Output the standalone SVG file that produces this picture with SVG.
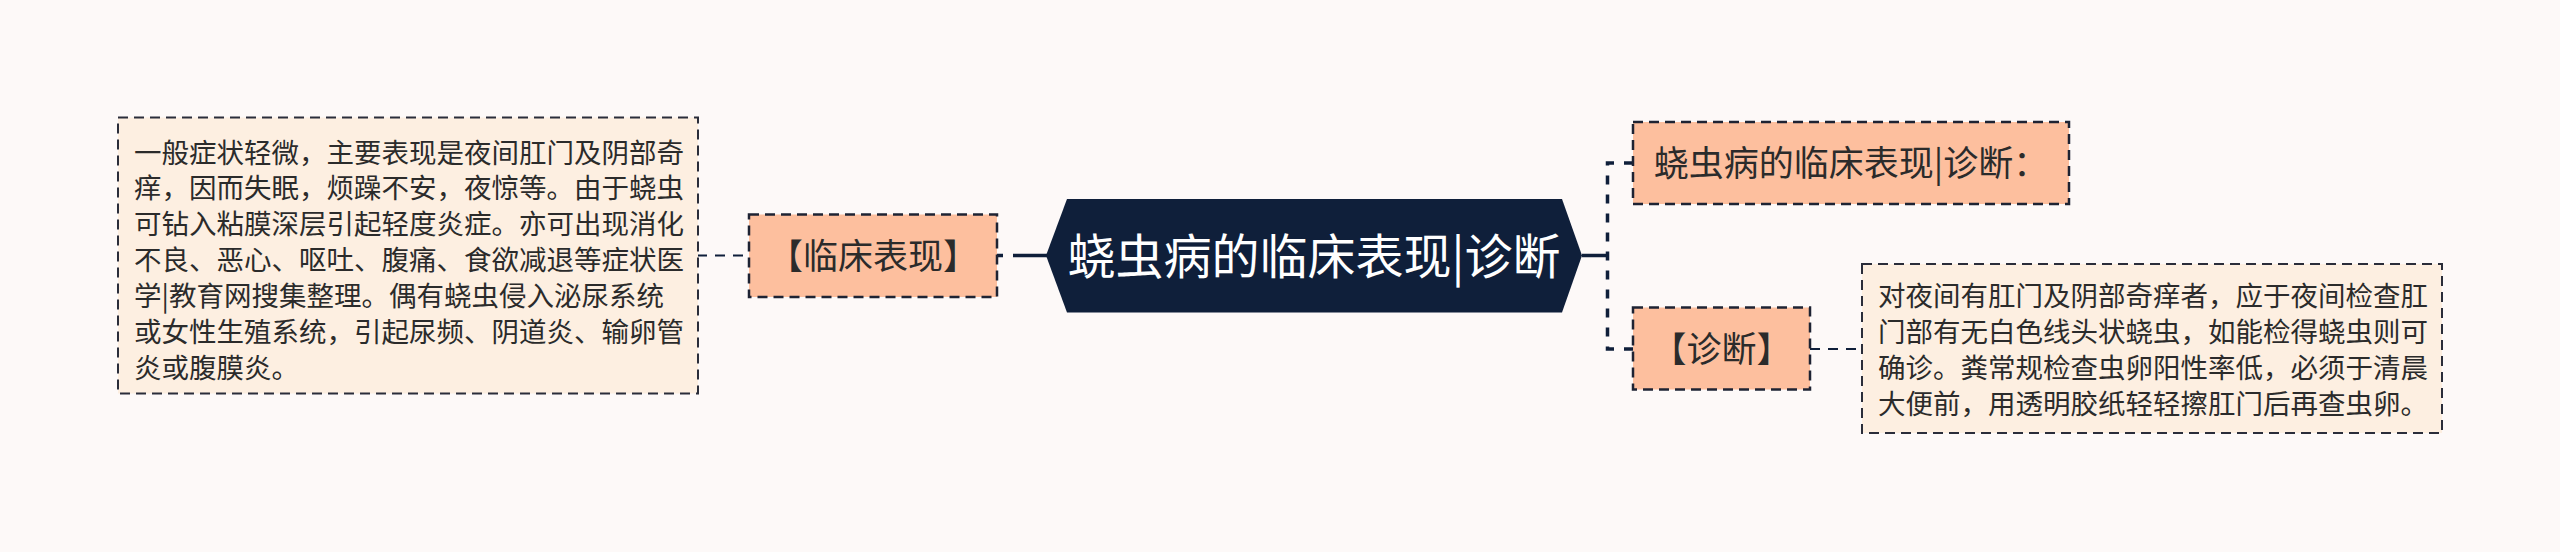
<svg xmlns="http://www.w3.org/2000/svg" width="2560" height="552" viewBox="0 0 2560 552">
<style>
text{font-family:"Noto Sans CJK SC","Noto Sans",sans-serif;fill:#2b2b2b}
.small{font-size:27.5px}
.mid{font-size:35px}
.root{font-size:48px;fill:#ffffff}
.tbox{fill:#fdefe1;stroke:#2a2d3a;stroke-width:2;stroke-dasharray:10 6}
.mbox{fill:#fdbf9e;stroke:#1e2333;stroke-width:2.5;stroke-dasharray:10 6}
.thin{fill:none;stroke:#0f1f3a;stroke-width:2;stroke-dasharray:10 8}
.thick{fill:none;stroke:#0f1f3a;stroke-width:3.5}
</style>
<rect width="2560" height="552" fill="#fdf9f8"/>
<g id="connectors">
<path class="thin" d="M697 255.5 H749"/>
<path class="thick" d="M1048 255.5 H997" stroke-dasharray="35 10"/>
<path class="thick" d="M1582 255.5 H1607.5"/>
<path class="thick" d="M1633 163 H1607.5 V349 H1633" stroke-dasharray="9 10"/>
<path class="thin" d="M1810 349 H1862"/>
</g>
<g id="node-root">
<polygon points="1046,255.5 1067,199 1562,199 1582,255.5 1562,312.5 1067,312.5" fill="#0f1f3a"/>
<text class="root" x="1314" y="273.5" text-anchor="middle">蛲虫病的临床表现|诊断</text>
</g>
<g id="node-linchuang">
<rect class="mbox" x="749" y="214.5" width="248" height="82.5"/>
<text class="mid" x="873" y="269" text-anchor="middle">【临床表现】</text>
</g>
<g id="node-linchuang-detail">
<rect class="tbox" x="118" y="117.5" width="580" height="276"/>
<text class="small" x="134">
<tspan x="134" y="162.5">一般症状轻微，主要表现是夜间肛门及阴部奇</tspan>
<tspan x="134" y="198.4">痒，因而失眠，烦躁不安，夜惊等。由于蛲虫</tspan>
<tspan x="134" y="234.3">可钻入粘膜深层引起轻度炎症。亦可出现消化</tspan>
<tspan x="134" y="270.2">不良、恶心、呕吐、腹痛、食欲减退等症状医</tspan>
<tspan x="134" y="306.1">学|教育网搜集整理。偶有蛲虫侵入泌尿系统</tspan>
<tspan x="134" y="342">或女性生殖系统，引起尿频、阴道炎、输卵管</tspan>
<tspan x="134" y="377.9">炎或腹膜炎。</tspan>
</text>
</g>
<g id="node-title">
<rect class="mbox" x="1633" y="122" width="436" height="82"/>
<text class="mid" x="1851" y="176.3" text-anchor="middle">蛲虫病的临床表现|诊断：</text>
</g>
<g id="node-zhenduan">
<rect class="mbox" x="1633" y="307.5" width="177" height="82"/>
<text class="mid" x="1721.5" y="361.8" text-anchor="middle">【诊断】</text>
</g>
<g id="node-zhenduan-detail">
<rect class="tbox" x="1862" y="264" width="580" height="169"/>
<text class="small">
<tspan x="1878" y="306">对夜间有肛门及阴部奇痒者，应于夜间检查肛</tspan>
<tspan x="1878" y="341.9">门部有无白色线头状蛲虫，如能检得蛲虫则可</tspan>
<tspan x="1878" y="377.8">确诊。粪常规检查虫卵阳性率低，必须于清晨</tspan>
<tspan x="1878" y="413.7">大便前，用透明胶纸轻轻擦肛门后再查虫卵。</tspan>
</text>
</g>
</svg>
